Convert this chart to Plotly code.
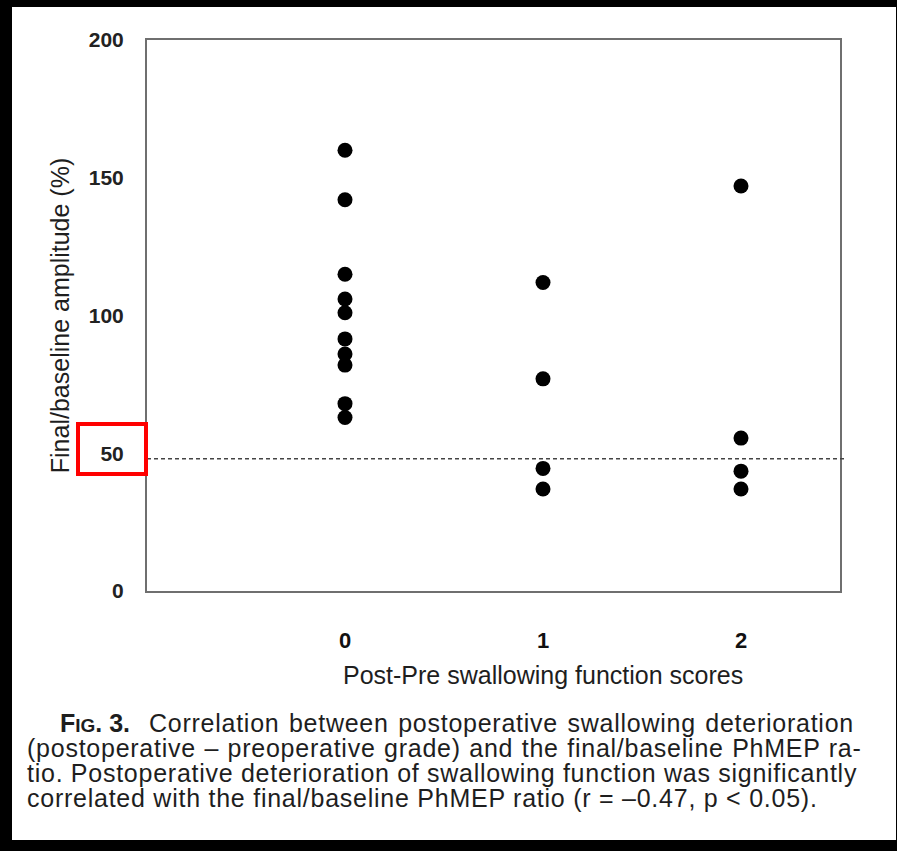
import plotly.graph_objects as go

# Post-Pre swallowing function score groups and final/baseline PhMEP amplitude (%)
score_0 = [160, 142, 115, 106, 101, 91.5, 86, 82, 68, 63]
score_1 = [112, 77, 44.5, 37]
score_2 = [147, 55.5, 43.5, 37]
x_ticks = [0, 1, 2]
y_ticks = [0, 50, 100, 150, 200]
threshold = 48

x_vals = [0] * len(score_0) + [1] * len(score_1) + [2] * len(score_2)
y_vals = score_0 + score_1 + score_2

W, H = 897, 851
L, R, T, B = 147, 840, 40, 591  # plot area in pixels


def px(x):
    return (x - L) / (R - L)


def py(y):
    return (B - y) / (B - T)


fig = go.Figure()
fig.add_trace(go.Scatter(
    x=x_vals, y=y_vals, mode="markers",
    marker=dict(color="black", size=15, line=dict(width=0)),
    showlegend=False, hoverinfo="skip",
))

AX = dict(showgrid=False, zeroline=False, showline=True, mirror=True,
          linecolor="#6f6f6f", linewidth=2, ticks="")

fig.update_layout(
    width=W, height=H,
    margin=dict(l=L, r=W - R, t=T, b=H - B, autoexpand=False),
    paper_bgcolor="black", plot_bgcolor="white",
    font=dict(family="Liberation Sans, Arial, sans-serif", color="#1e1e1e"),
    xaxis=dict(AX, range=[-1, 2.5], tickvals=x_ticks,
               ticktext=[str(v) for v in x_ticks],
               tickfont=dict(size=22, weight="bold", color="#111"),
               ticklabelstandoff=29),
    yaxis=dict(AX, range=[0, 200], tickvals=y_ticks,
               tickfont=dict(size=21, weight="bold", color="#222"),
               ticklabelstandoff=17,
               title=dict(text="Final/baseline amplitude (%)",
                          font=dict(size=25, color="#1e1e1e"), standoff=12)),
)

shapes = [
    # white page inside the dark border
    dict(type="rect", xref="paper", yref="paper", layer="below",
         x0=px(12), x1=px(896), y0=py(840), y1=py(7),
         fillcolor="white", line=dict(width=0)),
    # 50% reference line
    dict(type="line", xref="paper", yref="y", x0=0, x1=px(845),
         y0=threshold, y1=threshold,
         line=dict(color="#444", width=1.5, dash="4px,3px")),
    # highlight around the 50 tick label
    dict(type="rect", xref="paper", yref="paper",
         x0=px(78), x1=px(146), y0=py(474), y1=py(424),
         line=dict(color="#ff0000", width=4)),
]
fig.update_layout(shapes=shapes)

# x-axis title, centred under the score columns
fig.add_annotation(
    xref="paper", yref="paper", x=px(543), y=py(675),
    xanchor="center", yanchor="middle", showarrow=False,
    text="Post-Pre swallowing function scores",
    font=dict(size=25, color="#1e1e1e"),
)

# figure caption: 19.2px line box (25px line pitch) holding 25px glyphs,
# word spacing per line to justify the first three lines
ls = "letter-spacing:0.75px"
big = f"font-size:25px;{ls}"
bold = "font-size:25px;font-weight:bold"
caption_lines = [
    ("<span style='font-size:25px;letter-spacing:26px'>&#160;</span>"
     f"<span style='{bold}'>F</span>"
     "<span style='font-size:19px;font-weight:bold'>IG</span>"
     f"<span style='{bold}'>. 3.</span>"
     f"<span style='{big};word-spacing:1.75px'>  Correlation between postoperative swallowing deterioration</span>"),
    f"<span style='{big};word-spacing:0.8px'>(postoperative – preoperative grade) and the final/baseline PhMEP ra-</span>",
    f"<span style='{big};word-spacing:-0.2px'>tio. Postoperative deterioration of swallowing function was significantly</span>",
    f"<span style='{big}'>correlated with the final/baseline PhMEP ratio (r = –0.47, p &lt; 0.05).</span>",
]
fig.add_annotation(
    xref="paper", yref="paper", x=px(25), y=py(707),
    xanchor="left", yanchor="top", showarrow=False, align="left",
    text="<br>".join(caption_lines),
    font=dict(family="Liberation Sans, Arial, sans-serif", size=19.2, color="#1e1e1e"),
)

fig.write_html("out.html")
